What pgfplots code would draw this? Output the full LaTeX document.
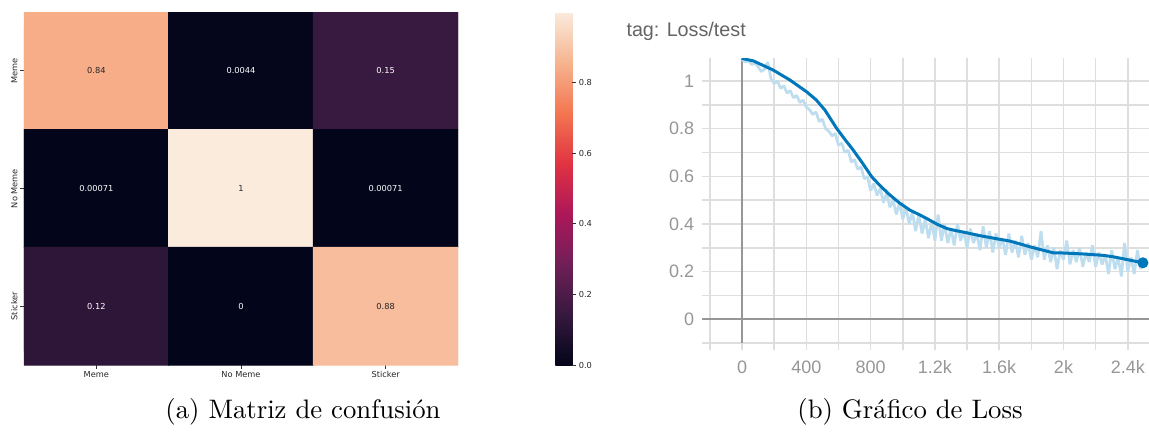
\documentclass[border=0pt]{standalone}
\usepackage{fontspec}
\usepackage{pgfplots}
\usepackage{pgfplotstable}
\pgfplotsset{compat=1.18}
\newfontfamily\lib{Liberation Sans}
\newfontfamily\dej{DejaVu Sans}
\definecolor{tbblue}{RGB}{0,119,187}
\definecolor{tbraw}{RGB}{190,222,240}
\definecolor{tbgrid}{RGB}{222,222,222}
\definecolor{tbaxis}{RGB}{150,150,150}
\definecolor{tblabel}{RGB}{150,150,150}
\definecolor{tbtitle}{RGB}{100,100,100}

\pgfplotstableread{
x y c
0.5 0.5 0.84
1.5 0.5 0.0044
2.5 0.5 0.15
0.5 1.5 0.00071
1.5 1.5 1
2.5 1.5 0.00071
0.5 2.5 0.12
1.5 2.5 0
2.5 2.5 0.88
}\cmdata

\pgfplotstableread{
x y
0 1.095
70 1.085
195 1.046
299 1.004
402 0.955
460 0.922
516 0.878
589 0.801
640 0.755
692 0.710
750 0.655
807 0.598
860 0.560
921 0.521
980 0.488
1045 0.458
1100 0.440
1149 0.423
1210 0.400
1273 0.381
1330 0.372
1397 0.363
1470 0.352
1543 0.343
1600 0.336
1667 0.328
1730 0.316
1791 0.304
1860 0.292
1936 0.279
2000 0.278
2061 0.276
2120 0.274
2185 0.271
2250 0.268
2310 0.262
2370 0.254
2434 0.245
2494 0.237
}\smooth

\pgfplotstableread{
x y
0 1.09
20 1.08
40 1.085
60 1.07
80 1.075
100 1.06
120 1.04
140 1.05
160 1.08
180 1.01
200 0.99
220 1.00
240 0.97
260 0.98
280 0.95
300 0.96
320 0.93
340 0.94
360 0.91
380 0.92
400 0.89
420 0.88
440 0.86
460 0.87
480 0.83
500 0.84
520 0.80
540 0.79
560 0.77
580 0.78
600 0.73
620 0.74
640 0.70
660 0.71
680 0.66
700 0.67
720 0.63
740 0.64
760 0.59
780 0.60
800 0.54
820 0.57
840 0.52
860 0.55
880 0.49
900 0.53
920 0.47
940 0.50
960 0.44
980 0.49
1000 0.42
1020 0.47
1040 0.40
1060 0.45
1080 0.37
1100 0.44
1120 0.36
1140 0.42
1160 0.34
1180 0.41
1200 0.33
1220 0.44
1240 0.33
1260 0.40
1280 0.32
1300 0.38
1320 0.31
1340 0.40
1360 0.33
1380 0.37
1400 0.30
1420 0.38
1440 0.32
1460 0.36
1480 0.29
1500 0.39
1520 0.30
1540 0.37
1560 0.28
1580 0.36
1600 0.30
1620 0.34
1640 0.27
1660 0.36
1680 0.28
1700 0.33
1720 0.26
1740 0.35
1760 0.27
1780 0.32
1800 0.25
1820 0.31
1840 0.26
1860 0.37
1880 0.25
1900 0.31
1920 0.24
1940 0.30
1960 0.21
1980 0.29
2000 0.25
2020 0.33
2040 0.23
2060 0.29
2080 0.24
2100 0.30
2120 0.22
2140 0.28
2160 0.24
2180 0.31
2200 0.22
2220 0.28
2240 0.23
2260 0.27
2280 0.19
2300 0.29
2320 0.21
2340 0.26
2360 0.18
2380 0.32
2400 0.20
2420 0.26
2440 0.19
2460 0.29
2480 0.21
2490 0.24
}\raw

\begin{document}
\begin{tikzpicture}
\path[use as bounding box] (0,0) rectangle (459.6pt,172.4pt);

% ---------- confusion matrix ----------
\begin{axis}[
  at={(9.6pt,167.6pt)}, anchor=north west,
  scale only axis, width=173.6pt, height=141.2pt,
  xmin=0, xmax=3, ymin=0, ymax=3, y dir=reverse,
  colormap={rocket}{rgb255(0)=(3,5,26) rgb255(1)=(53,25,62) rgb255(2)=(112,31,87)
    rgb255(3)=(173,23,89) rgb255(4)=(225,51,66) rgb255(5)=(243,118,81)
    rgb255(6)=(246,180,143) rgb255(7)=(250,235,221)},
  point meta min=0, point meta max=1,
  axis line style={draw=none},
  xtick={0.5,1.5,2.5}, ytick={0.5,1.5,2.5},
  xticklabels={Meme,No Meme,Sticker}, yticklabels={Meme,No Meme,Sticker},
  yticklabel style={rotate=90, anchor=south},
  tick align=outside, major tick length=1.4pt,
  tick style={black!80, line width=0.3pt},
  xtick pos=bottom, ytick pos=left,
  ticklabel style={font=\dej\fontsize{3.3pt}{4pt}\selectfont, text=black!85, inner sep=1pt},
  colorbar,
  colorbar style={
    at={(parent axis.north east)}, anchor=north west, xshift=30.4pt,
    scale only axis, width=6.8pt, height=141.2pt,
    ytick={0,0.2,0.4,0.6,0.8}, yticklabels={0.0,0.2,0.4,0.6,0.8},
    axis line style={draw=none},
    tick align=outside, major tick length=1.4pt,
    tick style={black!80, line width=0.3pt},
    ytick pos=right, yticklabel pos=right,
    yticklabel style={font=\dej\fontsize{3.3pt}{4pt}\selectfont, text=black!85, inner sep=1pt},
  },
]
\addplot[matrix plot*, mesh/cols=3, point meta=explicit] table[meta=c] {\cmdata};
\begin{scope}[font=\dej\fontsize{3.3pt}{4pt}\selectfont]
\node[text=black!85] at (axis cs:0.5,0.5) {0.84};
\node[text=white] at (axis cs:1.5,0.5) {0.0044};
\node[text=white] at (axis cs:2.5,0.5) {0.15};
\node[text=white] at (axis cs:0.5,1.5) {0.00071};
\node[text=black!85] at (axis cs:1.5,1.5) {1};
\node[text=white] at (axis cs:2.5,1.5) {0.00071};
\node[text=white] at (axis cs:0.5,2.5) {0.12};
\node[text=white] at (axis cs:1.5,2.5) {0};
\node[text=black!85] at (axis cs:2.5,2.5) {0.88};
\end{scope}
\end{axis}

% ---------- loss plot ----------
\node[anchor=base west, text=tbtitle, font=\lib\fontsize{7.9pt}{9pt}\selectfont, inner sep=0pt]
  at (250.4pt,158pt) {tag: Loss/test};
\begin{axis}[
  at={(280.8pt,149.2pt)}, anchor=north west,
  scale only axis, width=178.8pt, height=114pt,
  xmin=-249, xmax=2532, ymin=-0.1, ymax=1.097,
  axis line style={draw=none},
  xtick={-200,0,200,400,600,800,1000,1200,1400,1600,1800,2000,2200,2400},
  xticklabels={,0,,400,,800,,1.2k,,1.6k,,2k,,2.4k},
  ytick={-0.1,0,0.1,0.2,0.3,0.4,0.5,0.6,0.7,0.8,0.9,1},
  yticklabels={,0,,0.2,,0.4,,0.6,,0.8,,1},
  grid=major, grid style={tbgrid, line width=0.6pt},
  xtick pos=bottom, ytick pos=left, tick align=outside,
  major tick length=2.8pt,
  xtick style={tbgrid, line width=0.6pt},
  ytick style={draw=none},
  ticklabel style={font=\lib\fontsize{7.2pt}{8pt}\selectfont, text=tblabel},
  yticklabel style={xshift=3.2pt},
  xticklabel style={yshift=-0.8pt},
]
\draw[tbaxis, line width=0.6pt] (axis cs:0,-0.1) -- (axis cs:0,1.097);
\draw[tbaxis, line width=0.6pt] (axis cs:-249,0) -- (axis cs:2532,0);
\addplot[tbraw, line width=1.1pt, line join=bevel] table {\raw};
\addplot[tbblue, line width=1.2pt, line join=round] table {\smooth};
\addplot[tbblue, only marks, mark=*, mark size=2pt] coordinates {(2494,0.237)};
\end{axis}

% ---------- captions ----------
\node[anchor=base, font=\fontsize{10.7pt}{13pt}\selectfont, inner sep=0pt]
  at (121.2pt,5.2pt) {(a) Matriz de confusión};
\node[anchor=base, font=\fontsize{10.7pt}{13pt}\selectfont, inner sep=0pt]
  at (364pt,5.2pt) {(b) Gráfico de Loss};
\end{tikzpicture}
\end{document}
